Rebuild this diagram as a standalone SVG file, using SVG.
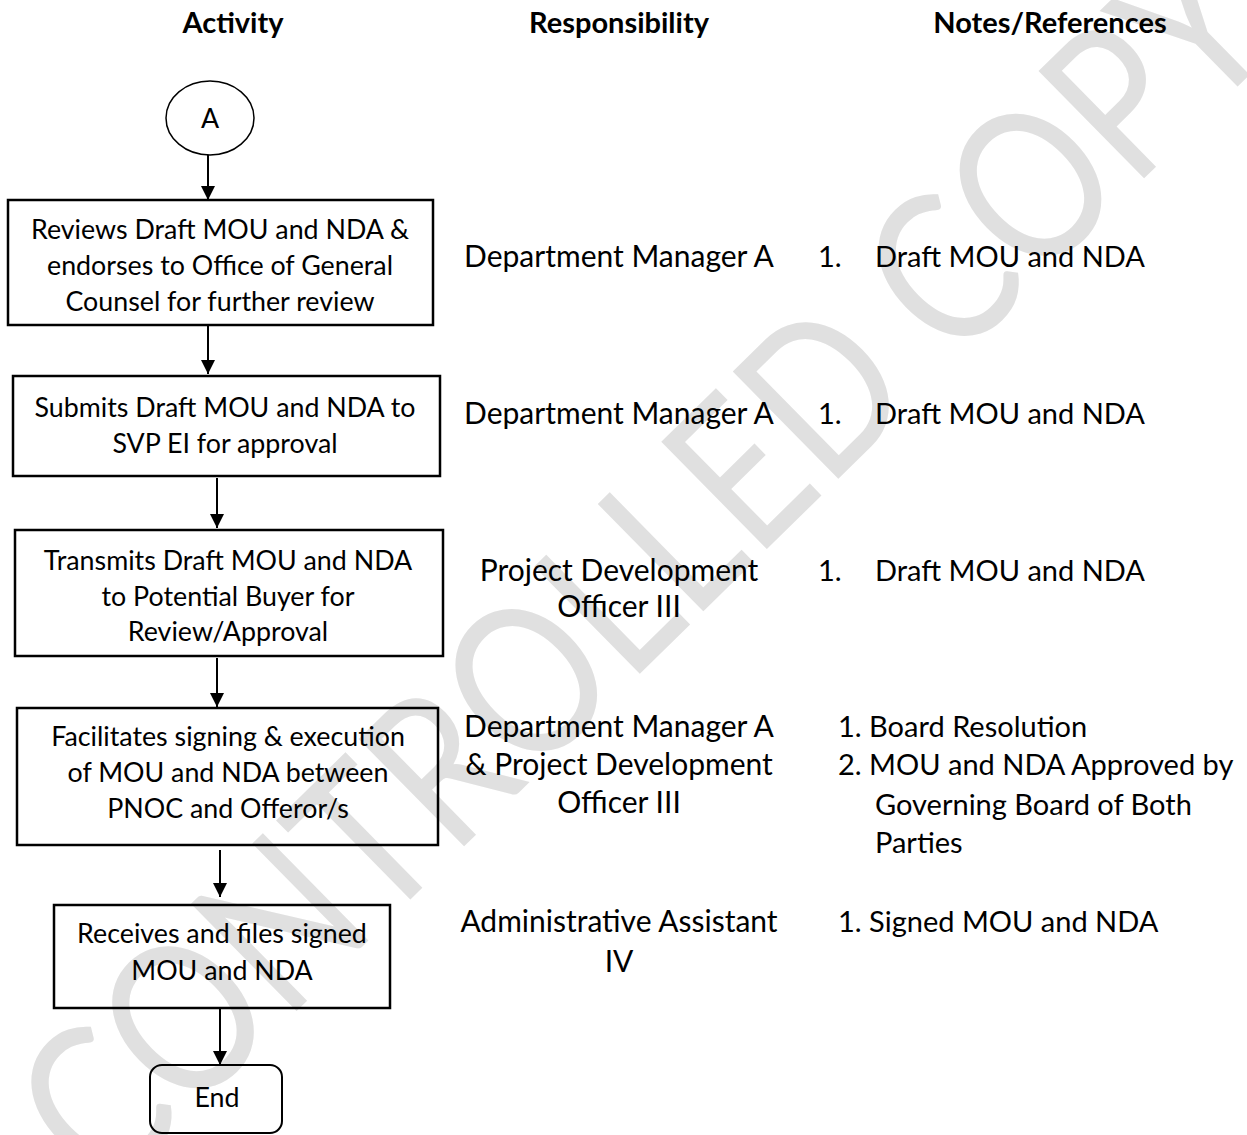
<svg xmlns="http://www.w3.org/2000/svg" width="1247" height="1135" viewBox="0 0 1247 1135">
<style>
.t{font-family:Lato,"Open Sans","Liberation Sans",sans-serif;font-size:29px;fill:#000}
.b{font-size:26.8px}
.r{font-size:30px}
.c{text-anchor:middle}
.h{font-weight:bold}
.box{fill:none;stroke:#000;stroke-width:2.5}
.wm{font-family:Lato,"Open Sans","Liberation Sans",sans-serif;font-weight:normal;font-size:210px;fill:#e0e0e0;text-anchor:middle}
.cn{stroke:#000;stroke-width:2;fill:none}
</style>
<defs>
<marker id="ah" viewBox="0 0 14 14" refX="14" refY="7" markerWidth="14" markerHeight="14" markerUnits="userSpaceOnUse" orient="auto">
<path d="M0,0 L14,7 L0,14 Z" fill="#000"/>
</marker>
</defs>
<rect width="1247" height="1135" fill="#fff"/>
<g id="watermark" transform="translate(642,568) rotate(-44.5)">
<text class="wm" x="0" y="74" textLength="1650" lengthAdjust="spacingAndGlyphs">CONTROLLED COPY</text>
</g>
<g id="headers">
<text class="t c h" x="233" y="33">Activity</text>
<text class="t c h" x="619" y="33">Responsibility</text>
<text class="t c h" x="1050" y="33">Notes/References</text>
</g>
<g id="connectors">
<line class="cn" x1="208" y1="155" x2="208" y2="200" marker-end="url(#ah)"/>
<line class="cn" x1="208" y1="326" x2="208" y2="374" marker-end="url(#ah)"/>
<line class="cn" x1="217" y1="478" x2="217" y2="528" marker-end="url(#ah)"/>
<line class="cn" x1="217" y1="658" x2="217" y2="707" marker-end="url(#ah)"/>
<line class="cn" x1="220" y1="850" x2="220" y2="897" marker-end="url(#ah)"/>
<line class="cn" x1="220" y1="1009" x2="220" y2="1065" marker-end="url(#ah)"/>
</g>
<g id="nodeA">
<ellipse class="box" cx="210" cy="118" rx="44" ry="37" style="stroke-width:1.5"/>
<text class="t b c" x="210" y="128">A</text>
</g>
<g id="step1">
<rect class="box" x="8" y="200" width="425" height="125"/>
<text class="t b c" x="220" y="239">Reviews Draft MOU and NDA &amp;</text>
<text class="t b c" x="220" y="275">endorses to Office of General</text>
<text class="t b c" x="220" y="311">Counsel for further review</text>
<text class="t r c" x="619" y="267">Department Manager A</text>
<text class="t" x="818" y="267">1.</text>
<text class="t" x="875" y="267">Draft MOU and NDA</text>
</g>
<g id="step2">
<rect class="box" x="13" y="376" width="427" height="100"/>
<text class="t b c" x="225" y="417">Submits Draft MOU and NDA to</text>
<text class="t b c" x="225" y="453">SVP EI for approval</text>
<text class="t r c" x="619" y="424">Department Manager A</text>
<text class="t" x="818" y="424">1.</text>
<text class="t" x="875" y="424">Draft MOU and NDA</text>
</g>
<g id="step3">
<rect class="box" x="15" y="530" width="428" height="126"/>
<text class="t b c" x="228" y="570">Transmits Draft MOU and NDA</text>
<text class="t b c" x="228" y="606">to Potential Buyer for</text>
<text class="t b c" x="228" y="641">Review/Approval</text>
<text class="t r c" x="619" y="581">Project Development</text>
<text class="t r c" x="619" y="617">Officer III</text>
<text class="t" x="818" y="581">1.</text>
<text class="t" x="875" y="581">Draft MOU and NDA</text>
</g>
<g id="step4">
<rect class="box" x="17" y="708" width="421" height="137"/>
<text class="t b c" x="228" y="746">Facilitates signing &amp; execution</text>
<text class="t b c" x="228" y="782">of MOU and NDA between</text>
<text class="t b c" x="228" y="818">PNOC and Offeror/s</text>
<text class="t r c" x="619" y="737">Department Manager A</text>
<text class="t r c" x="619" y="775">&amp; Project Development</text>
<text class="t r c" x="619" y="813">Officer III</text>
<text class="t" x="838" y="737">1. Board Resolution</text>
<text class="t" x="838" y="775">2. MOU and NDA Approved by</text>
<text class="t" x="875" y="815">Governing Board of Both</text>
<text class="t" x="875" y="853">Parties</text>
</g>
<g id="step5">
<rect class="box" x="54" y="905" width="336" height="103"/>
<text class="t b c" x="222" y="943">Receives and files signed</text>
<text class="t b c" x="222" y="980">MOU and NDA</text>
<text class="t r c" x="619" y="932">Administrative Assistant</text>
<text class="t r c" x="619" y="972">IV</text>
<text class="t" x="838" y="932">1. Signed MOU and NDA</text>
</g>
<g id="end">
<rect class="box" x="150" y="1065" width="132" height="68" rx="12" style="stroke-width:2"/>
<text class="t b c" x="217" y="1107">End</text>
</g>
</svg>
